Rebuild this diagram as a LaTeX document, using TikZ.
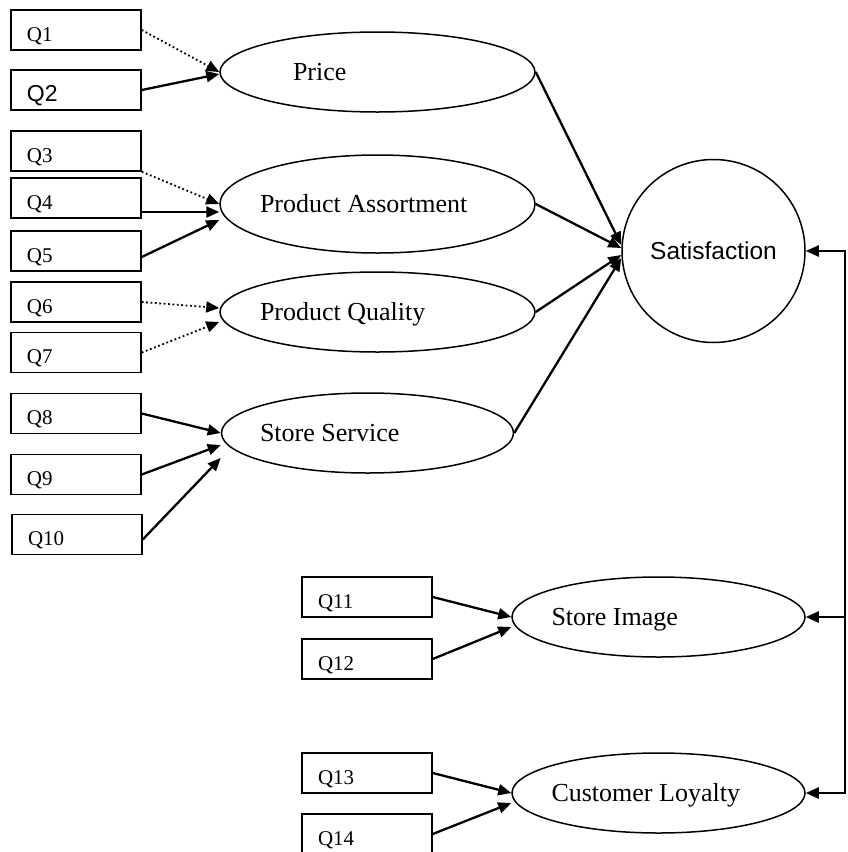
\documentclass[tikz,border=0pt]{standalone}
\usepackage{fontspec}
\setmainfont{Liberation Serif}
\newfontfamily\arialfont{Liberation Sans}
\usetikzlibrary{shapes.geometric,arrows.meta}

\begin{document}
\begin{tikzpicture}[x=1pt, y=1pt, >={Triangle[length=13pt,width=11pt]},
  item/.style={draw, rectangle, line width=1.5pt, minimum width=130pt, minimum height=40pt,
    text width=98pt, inner xsep=16pt, align=flush left, text height=22pt, text depth=0pt,
    font=\fontsize{21}{24}\selectfont},
  latent/.style 2 args={draw, ellipse, line width=1.5pt, minimum width=#1, minimum height=80pt,
    text width=#2, inner xsep=-10pt, align=flush left, text height=17pt, text depth=0pt,
    font=\fontsize{26}{30}\selectfont},
  link/.style={->, line width=2.3pt},
  weak/.style={->, line width=1.8pt, dash pattern=on 1.8pt off 2.6pt}]
  \clip (0,0) rectangle (847,-852);

  \node (q1) [item] at (76,-30) {Q1};
  \node (q2) [item, font=\arialfont\fontsize{23}{26}\selectfont] at (76,-90) {Q2};
  \node (q3) [item] at (76,-151) {Q3};
  \node (q4) [item] at (76,-198) {Q4};
  \node (q5) [item] at (76,-251) {Q5};
  \node (q6) [item] at (76,-302) {Q6};
  \node (q7) [item] at (76,-352.5) {Q7};
  \node (q8) [item] at (76,-413.5) {Q8};
  \node (q9) [item] at (76,-474.5) {Q9};
  \node (q10) [item] at (77,-534.5) {Q10};
  \node (q11) [item] at (367,-597) {Q11};
  \node (q12) [item] at (367,-659) {Q12};
  \node (q13) [item] at (367,-773) {Q13};
  \node (q14) [item] at (367,-834) {Q14};

  \node (price) [latent={315pt}{169pt}] at (377.5,-72) {Price};
  \node (assort) [latent={315pt}{235pt}, minimum height=98pt] at (377.5,-204) {Product Assortment};
  \node (quality) [latent={315pt}{235pt}] at (377.5,-312) {Product Quality};
  \node (service) [latent={292pt}{215pt}] at (367.5,-433) {Store Service};
  \node (image) [latent={293pt}{214pt}] at (658.5,-617) {Store Image};
  \node (loyal) [latent={293pt}{214pt}] at (658.5,-793) {Customer Loyalty};
  \node (sat) [draw, circle, line width=1.5pt, minimum size=183pt,
    font=\arialfont\fontsize{24.5}{28}\selectfont] at (713.5,-251) {Satisfaction};
  \coordinate (bus) at (845,0);

  \draw[weak] (q1.east) -- (price.west);
  \draw[link] (q2.east) -- ([yshift=-2pt]price.west);
  \draw[weak] (q3.south east) -- (assort.west);
  \draw[link] ([yshift=-14pt]q4.east) -- ([yshift=-8pt]assort.west);
  \draw[link] ([yshift=-6pt]q5.east) -- ([yshift=-16pt]assort.west);
  \draw[weak] (q6.east) -- ([yshift=4pt]quality.west);
  \draw[weak] (q7.east) -- ([yshift=-10pt]quality.west);
  \draw[link] (q8.east) -- (service.west);
  \draw[link] (q9.east) -- ([yshift=-12pt]service.west);
  \draw[link] ([yshift=-5pt]q10.east) -- ([yshift=-25pt]service.west);
  \draw[link] (q11.east) -- (image.west);
  \draw[link] (q12.east) -- ([yshift=-10pt]image.west);
  \draw[link] (q13.east) -- (loyal.west);
  \draw[link] (q14.east) -- ([yshift=-10pt]loyal.west);

  \draw[link] (price.east) -- ([yshift=6pt]sat.west);
  \draw[link] (assort.east) -- ([yshift=3pt]sat.west);
  \draw[link] (quality.east) -- ([yshift=-4pt]sat.west);
  \draw[link] (service.east) -- ([yshift=-7pt]sat.west);

  \draw[link, <->] (sat.east) -- (sat.east -| bus) |- (loyal.east);
  \draw[link] (image.east -| bus) -- (image.east);
\end{tikzpicture}
\end{document}
